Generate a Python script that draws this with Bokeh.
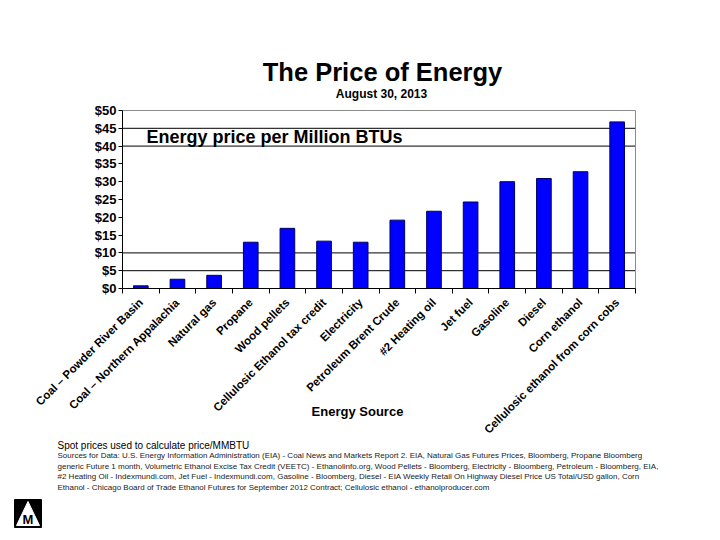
import math
from bokeh.plotting import figure
from bokeh.models import (Range1d, FixedTicker, PrintfTickFormatter, Label)
from bokeh.embed import file_html
from bokeh.resources import INLINE

# ---- data ----
sources = [
    "Coal \u2013 Powder River Basin",
    "Coal \u2013 Northern Appalachia",
    "Natural gas",
    "Propane",
    "Wood pellets",
    "Cellulosic Ethanol tax credit",
    "Electricity",
    "Petroleum Brent Crude",
    "#2 Heating oil",
    "Jet fuel",
    "Gasoline",
    "Diesel",
    "Corn ethanol",
    "Cellulosic ethanol from corn cobs",
]
prices = [0.75, 2.6, 3.7, 13.0, 16.9, 13.3, 13.0, 19.2, 21.7, 24.3, 30.0, 30.9, 32.8, 46.8]
y_ticks = [0, 5, 10, 15, 20, 25, 30, 35, 40, 45, 50]
grid_ticks = [5, 10, 40, 45]

title = "The Price of Energy"
subtitle = "August 30, 2013"
inner_note = "Energy price per Million BTUs"
x_title = "Energy Source"
foot_head = "Spot prices used to calculate price/MMBTU"
foot_lines = [
    "Sources for Data: U.S. Energy Information Administration (EIA) - Coal News and Markets Report 2. EIA, Natural Gas Futures Prices, Bloomberg, Propane Bloomberg",
    "generic Future 1 month, Volumetric Ethanol Excise Tax Credit (VEETC) - Ethanolinfo.org, Wood Pellets - Bloomberg, Electricity - Bloomberg, Petroleum - Bloomberg, EIA,",
    "#2 Heating Oil - Indexmundi.com, Jet Fuel - Indexmundi.com, Gasoline - Bloomberg, Diesel - EIA Weekly Retail On Highway Diesel Price US Total/USD gallon, Corn",
    "Ethanol - Chicago Board of Trade Ethanol Futures for September 2012 Contract; Cellulosic ethanol - ethanolproducer.com",
]

FONT = "Liberation Sans"
N = len(sources)
Y_MAX = 50

# plot-area geometry in canvas pixels (whole canvas is the frame)
W, H = 716, 536
FL, FR, FT, FB = 122, 635, 110, 288

def dx(xi):
    return -0.5 + (xi - FL) / (FR - FL) * N

def dy(yi):
    return (FB - yi) / (FB - FT) * Y_MAX

p = figure(width=W, height=H,
           x_range=Range1d(dx(0), dx(W)), y_range=Range1d(dy(H), dy(0)),
           output_backend="svg", toolbar_location=None,
           min_border=0, min_border_left=0, min_border_right=0,
           min_border_top=0, min_border_bottom=0)
p.background_fill_color = "white"
p.border_fill_color = "white"
p.outline_line_color = None
p.xgrid.visible = False
p.ygrid.visible = False

xs = list(range(N))
x_lo, x_hi = -0.5, N - 0.5

# horizontal grid lines (only those shown in the original)
p.segment(x0=[x_lo] * len(grid_ticks), x1=[x_hi] * len(grid_ticks),
          y0=grid_ticks, y1=grid_ticks, line_color="black", line_width=1)
# plot-area border (top and right, grey)
p.segment(x0=[x_lo, x_hi], x1=[x_hi, x_hi], y0=[Y_MAX, 0], y1=[Y_MAX, Y_MAX],
          line_color="#8c8c8c", line_width=1)

p.vbar(x=xs, top=prices, width=0.4, bottom=0, fill_color="#0000ff",
       line_color="#000060", line_width=1)

# y axis, fixed at the left edge of the plot area
p.yaxis.fixed_location = x_lo
p.yaxis.bounds = (0, Y_MAX)
p.yaxis.ticker = FixedTicker(ticks=y_ticks)
p.yaxis.formatter = PrintfTickFormatter(format="$%d")
p.yaxis.major_label_text_font = FONT
p.yaxis.major_label_text_font_style = "bold"
p.yaxis.major_label_text_font_size = "13px"
p.yaxis.major_label_text_color = "black"
p.yaxis.major_tick_in = 0
p.yaxis.major_tick_out = 4
p.yaxis.minor_tick_line_color = None
p.yaxis.major_label_standoff = 2
p.yaxis.axis_line_color = "black"
p.yaxis.major_tick_line_color = "black"

# x axis, fixed at y = 0
p.xaxis.fixed_location = 0
p.xaxis.bounds = (x_lo, x_hi)
p.xaxis.ticker = FixedTicker(ticks=xs, minor_ticks=[i - 0.5 for i in range(N + 1)])
p.xaxis.major_label_overrides = {i: s for i, s in enumerate(sources)}
p.xaxis.major_label_orientation = math.pi / 4
p.xaxis.major_label_text_font = FONT
p.xaxis.major_label_text_font_style = "bold"
p.xaxis.major_label_text_font_size = "11.5px"
p.xaxis.major_label_text_color = "black"
p.xaxis.major_tick_line_color = None
p.xaxis.minor_tick_in = 0
p.xaxis.minor_tick_out = 5
p.xaxis.minor_tick_line_color = "black"
p.xaxis.major_label_standoff = 6
p.xaxis.axis_line_color = "black"

def lab(text, xi, yi, size, bold=False, align="left", color="black"):
    p.add_layout(Label(x=dx(xi), y=dy(yi), text=text, text_font=FONT,
                       text_font_size=size, text_font_style="bold" if bold else "normal",
                       text_align=align, text_baseline="middle", text_color=color))

lab(title, 382, 71, "25.5px", True, "center")
lab(subtitle, 381, 93, "12px", True, "center")
lab(inner_note, 146, 136, "18px", True)
lab(x_title, 357, 411, "13px", True, "center")
lab(foot_head, 57, 445, "10px")
for k, line in enumerate(foot_lines):
    lab(line, 57, 455 + k * 10.5, "8px", color="#222222")

# logo
p.quad(left=[dx(14)], right=[dx(41)], top=[dy(499)], bottom=[dy(527)],
       fill_color="black", line_color="black")
p.patch(x=[dx(27.5), dx(39), dx(16)], y=[dy(501), dy(525), dy(525)],
        fill_color="white", line_color="white")
lab("M", 27.5, 518.5, "13px", True, "center")

open("out.html", "w").write(file_html(p, INLINE))
